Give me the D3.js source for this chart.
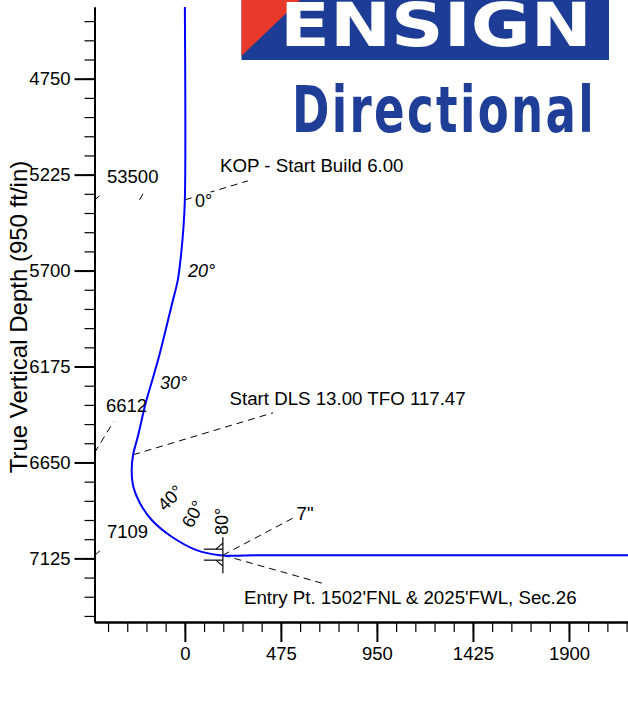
<!DOCTYPE html>
<html>
<head>
<meta charset="utf-8">
<script src="https://cdn.jsdelivr.net/npm/d3@7"></script>
<style>
  body { margin: 0; background: #fff; }
  svg text { font-family: "Liberation Sans", Arial, sans-serif; fill: #000; }
</style>
</head>
<body>
<div id="chart"></div>
<script>
// well plan: vertical section (ft) and true vertical depth (ft)
var pathVS  = [0, 0, -8, -19, -35, -65, -95, -126, -161, -194, -233, -256, -263, -255, -222, -164, -65, 58, 174, 400, 2300];
var pathTVD = [4395, 5350, 5499, 5623, 5747, 5870, 5994, 6118, 6242, 6357, 6523, 6612, 6687, 6770, 6852, 6935, 7018, 7084, 7109, 7109, 7109];

var tvdTicks = [4750, 5225, 5700, 6175, 6650, 7125];
var vsTicks = [0, 475, 950, 1425, 1900];

var angleLabels = ["0°", "20°", "30°", "40°", "60°", "80°"];
var depthLabels = ["53500", "6612", "7109"];
var kopNote = "KOP - Start Build 6.00";
var dlsNote = "Start DLS 13.00 TFO 117.47";
var casingNote = "7\"";
var entryNote = "Entry Pt. 1502'FNL & 2025'FWL, Sec.26";

// key points on the path (vs, tvd)
var kopPt = [0, 5350];
var dlsPt = [-256, 6612];
var entryPt = [188, 7109];

var width = 628, height = 710;

var svg = d3.select("#chart").append("svg")
    .attr("width", width)
    .attr("height", height);

svg.append("rect").attr("width", width).attr("height", height).attr("fill", "#fff");

var x = d3.scaleLinear().domain([-447, 2192]).range([94.5, 628]);
var y = d3.scaleLinear().domain([4395, 7440]).range([7, 622]);

// logo
var logo = svg.append("g");
logo.append("rect")
    .attr("x", 241.5).attr("y", 0).attr("width", 367.5).attr("height", 60)
    .attr("fill", "#1d3c95");
logo.append("path")
    .attr("d", "M241.5,0 L300,0 L241.5,56 Z")
    .attr("fill", "#e8392b");

// stretch a text horizontally so it fills a given width
function fitText(sel, x0, y0, w) {
  var nat = sel.node().getComputedTextLength();
  sel.attr("transform", "translate(" + x0 + "," + y0 + ") scale(" + (w / nat) + ",1)");
}
var ensign = logo.append("text")
    .style("font-family", "'DejaVu Sans', sans-serif")
    .style("font-weight", "bold")
    .style("font-size", "60px")
    .style("fill", "#fff")
    .text("ENSIGN");
fitText(ensign, 280, 46, 312);
var directional = logo.append("text")
    .style("font-family", "'DejaVu Sans Condensed', 'DejaVu Sans', sans-serif")
    .style("font-weight", "bold")
    .style("font-size", "64px")
    .style("letter-spacing", "3px")
    .style("fill", "#1f3e97")
    .text("Directional");
fitText(directional, 292, 131.5, 304);

// axes
var yMinor = d3.range(4465, 7440, 95);
var xMinor = d3.range(-380, 2192, 95);

var gy = svg.append("g").attr("transform", "translate(" + x.range()[0] + ",0)");
gy.append("g")
    .call(d3.axisLeft(y).tickValues(yMinor).tickSize(10).tickSizeOuter(0).tickFormat(""));
var gyMajor = gy.append("g")
    .call(d3.axisLeft(y).tickValues(tvdTicks).tickSize(20).tickSizeOuter(0).tickPadding(4).tickFormat(d3.format("d")));

var gx = svg.append("g").attr("transform", "translate(0," + y.range()[1] + ")");
gx.append("g")
    .call(d3.axisBottom(x).tickValues(xMinor).tickSize(10).tickSizeOuter(0).tickFormat(""));
var gxMajor = gx.append("g")
    .call(d3.axisBottom(x).tickValues(vsTicks).tickSize(20).tickSizeOuter(0).tickPadding(5).tickFormat(d3.format("d")));

svg.selectAll(".domain").attr("stroke", "#000").attr("stroke-width", 2);
svg.selectAll(".tick line").attr("stroke-width", 1.2);
gyMajor.selectAll(".tick line").attr("stroke-width", 2);
gxMajor.selectAll(".tick line").attr("stroke-width", 2);
svg.selectAll(".tick text")
    .style("font-family", "'Liberation Sans', Arial, sans-serif")
    .style("font-size", "18.5px")
    .attr("fill", "#000");

svg.append("text")
    .attr("transform", "translate(27,317) rotate(-90)")
    .attr("text-anchor", "middle")
    .style("font-size", "24px")
    .text("True Vertical Depth (950 ft/in)");

// dashed leaders
function leader(x1, y1, x2, y2) {
  svg.append("line")
      .attr("x1", x1).attr("y1", y1).attr("x2", x2).attr("y2", y2)
      .attr("stroke", "#000").attr("stroke-width", 1)
      .attr("stroke-dasharray", "7,5");
}
var kx = x(kopPt[0]), ky = y(kopPt[1]);
var dx = x(dlsPt[0]), dy = y(dlsPt[1]);
var ex = x(entryPt[0]), ey = y(entryPt[1]);
var ax = x.range()[0];

leader(kx, ky, kx + 63, ky - 19);
leader(dx, dy, dx + 140, dy - 42);
leader(ex, ey, ex + 70, ey - 37);
leader(ex, ey, ex + 99, ey + 28);
leader(ax, y(6612) - 2, ax + 19, y(6612) - 33);
leader(ax, y(7125) - 3, ax + 6, y(7125) - 8);
leader(ax, ky, ax + 5, ky - 4);
leader(ax + 45, ky, ax + 49, ky - 7);

// well path
var line = d3.line()
    .x(function (d, i) { return x(pathVS[i]); })
    .y(function (d, i) { return y(d); })
    .curve(d3.curveCatmullRom.alpha(0.5));

svg.append("path")
    .datum(pathTVD)
    .attr("d", line)
    .attr("fill", "none")
    .attr("stroke", "#0000ff")
    .attr("stroke-width", 2);

// target marker at entry point
var tgt = svg.append("g").attr("stroke", "#000").attr("stroke-width", 1.2).attr("fill", "none");
tgt.append("line").attr("x1", ex).attr("y1", ey - 18).attr("x2", ex).attr("y2", ey + 18);
tgt.append("line").attr("x1", ex - 19).attr("y1", ey - 6).attr("x2", ex).attr("y2", ey - 6);
tgt.append("line").attr("x1", ex - 19).attr("y1", ey + 5).attr("x2", ex).attr("y2", ey + 5);
tgt.append("path").attr("d", "M" + ex + "," + (ey - 12) + " L" + (ex - 7) + "," + (ey - 6));
tgt.append("path").attr("d", "M" + ex + "," + (ey + 11) + " L" + (ex - 7) + "," + (ey + 5));

// inclination labels along the path
var anglePos = [
  {x: 195, y: 207, r: 0, it: false},
  {x: 188, y: 277, r: 0, it: true},
  {x: 160, y: 388.5, r: 0, it: true},
  {x: 165, y: 512, r: -45, it: false},
  {x: 192, y: 529, r: -62, it: false},
  {x: 228, y: 535, r: -90, it: false}
];
svg.selectAll(".angle")
    .data(angleLabels)
    .enter().append("text")
    .attr("class", "angle")
    .attr("transform", function (d, i) {
      var p = anglePos[i];
      return "translate(" + p.x + "," + p.y + ") rotate(" + p.r + ")";
    })
    .style("font-size", "18px")
    .style("font-style", function (d, i) { return anglePos[i].it ? "italic" : "normal"; })
    .style("paint-order", "stroke")
    .style("stroke", "#fff")
    .style("stroke-width", function (d, i) { return i == 0 ? 4 : 0; })
    .text(function (d) { return d; });

// depth labels near the axis
var depthPos = [[107, 183], [106, 411.5], [107, 538]];
svg.selectAll(".depth")
    .data(depthLabels)
    .enter().append("text")
    .attr("class", "depth")
    .attr("x", function (d, i) { return depthPos[i][0]; })
    .attr("y", function (d, i) { return depthPos[i][1]; })
    .style("font-size", "18.5px")
    .text(function (d) { return d; });

function note(txt, tx, ty) {
  svg.append("text").attr("x", tx).attr("y", ty)
      .style("font-size", "18.7px")
      .text(txt);
}
note(kopNote, 220, 171.5);
note(dlsNote, 229.5, 405);
note(casingNote, 296.5, 519.5);
note(entryNote, 244, 604);
</script>
</body>
</html>
